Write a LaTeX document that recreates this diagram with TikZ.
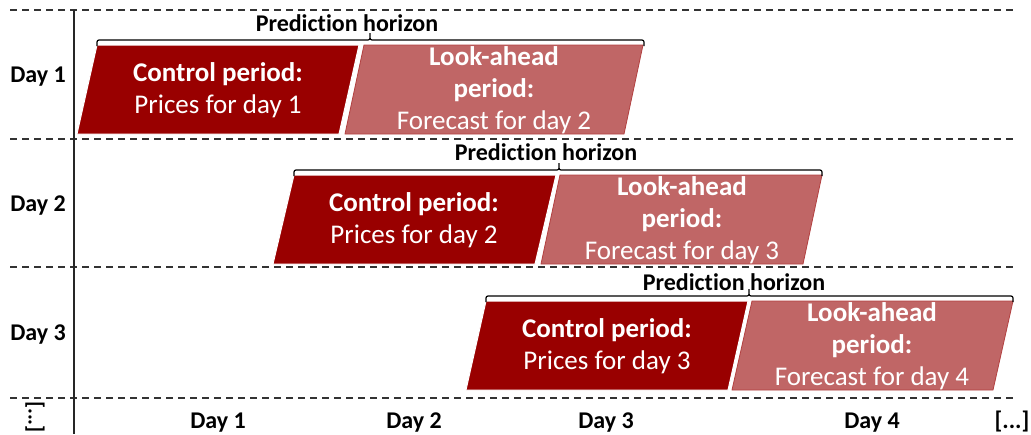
\documentclass[tikz,border=0pt]{standalone}
\usepackage{fontspec}
\setmainfont{Carlito}[Ligatures=NoCommon]
\definecolor{ctrlred}{RGB}{153,0,0}
\definecolor{aheadred}{RGB}{192,102,102}
\definecolor{aheadline}{RGB}{178,64,64}
\tikzstyle{ctrl}=[fill=ctrlred,draw=white,line width=1pt]
\tikzstyle{ahead}=[fill=aheadred,draw=aheadline,line width=0.8pt]
\tikzstyle{intext}=[text=white,align=center,inner sep=0pt,font=\fontsize{27}{32}\selectfont]
\tikzstyle{lbl}=[anchor=base,inner sep=0pt,font=\fontsize{24}{28}\selectfont\bfseries]
\tikzstyle{rowline}=[black!80,line width=1.3pt,dash pattern=on 7pt off 5pt]
\tikzstyle{horizon}=[line width=1.2pt,rounded corners=2pt]

\begin{document}
\begin{tikzpicture}[x=1pt,y=-1pt]
    \useasboundingbox (0,0) rectangle (1031,434);
    % day rows
    \draw[rowline] (10,10)--(1015,10);
    \draw[rowline] (10,139)--(1015,139);
    \draw[rowline] (10,267)--(1015,267);
    \draw[rowline] (10,398)--(1015,398);
    \draw[black!85,line width=1.8pt] (74,10)--(74,434);
    \node[lbl] (row1) at (38,82) {Day 1};
    \node[lbl] (row2) at (38,211) {Day 2};
    \node[lbl] (row3) at (38,340) {Day 3};
    \node[lbl,anchor=center,rotate=-90,font=\fontsize{22}{26}\selectfont\bfseries] (rowmore) at (35,417) {[...]};
    % day 1
    \draw[ctrl] (77,134)--(97,45)--(359,45)--(339,134)--cycle;
    \node[intext] (ctrl1) at (218,90) {\textbf{Control period:}\\Prices for day 1};
    \draw[ahead] (345,134)--(364,45)--(643,45)--(624,134)--cycle;
    \node[intext] (ahead1) at (494,90) {\textbf{Look-ahead}\\\textbf{period:}\\Forecast for day 2};
    \draw[horizon] (97,46)--(97,40)--(370,40)--(370,33) (370,33)--(370,40)--(644,40)--(644,46);
    \node[lbl] (hor1) at (347,31) {Prediction horizon};
    % day 2
    \draw[ctrl] (273,264)--(294,175)--(556,175)--(535,264)--cycle;
    \node[intext] (ctrl2) at (414,220) {\textbf{Control period:}\\Prices for day 2};
    \draw[ahead] (541,264)--(560,175)--(822,175)--(803,264)--cycle;
    \node[intext] (ahead2) at (682,220) {\textbf{Look-ahead}\\\textbf{period:}\\Forecast for day 3};
    \draw[horizon] (294,176)--(294,170)--(559,170)--(559,163) (559,163)--(559,170)--(822,170)--(822,176);
    \node[lbl] (hor2) at (546,160) {Prediction horizon};
    % day 3
    \draw[ctrl] (466,390)--(486,301)--(748,301)--(728,390)--cycle;
    \node[intext] (ctrl3) at (607,346) {\textbf{Control period:}\\Prices for day 3};
    \draw[ahead] (732,390)--(752,301)--(1013,301)--(993,390)--cycle;
    \node[intext] (ahead3) at (872,346) {\textbf{Look-ahead}\\\textbf{period:}\\Forecast for day 4};
    \draw[horizon] (486,302)--(486,296)--(749,296)--(749,289) (749,289)--(749,296)--(1013,296)--(1013,302);
    \node[lbl] (hor3) at (734,290) {Prediction horizon};
    % time axis
    \node[lbl] (t1) at (218,428) {Day 1};
    \node[lbl] (t2) at (414,428) {Day 2};
    \node[lbl] (t3) at (606,428) {Day 3};
    \node[lbl] (t4) at (872,428) {Day 4};
    \node[lbl] (tmore) at (1012,428) {[...]};
\end{tikzpicture}
\end{document}
